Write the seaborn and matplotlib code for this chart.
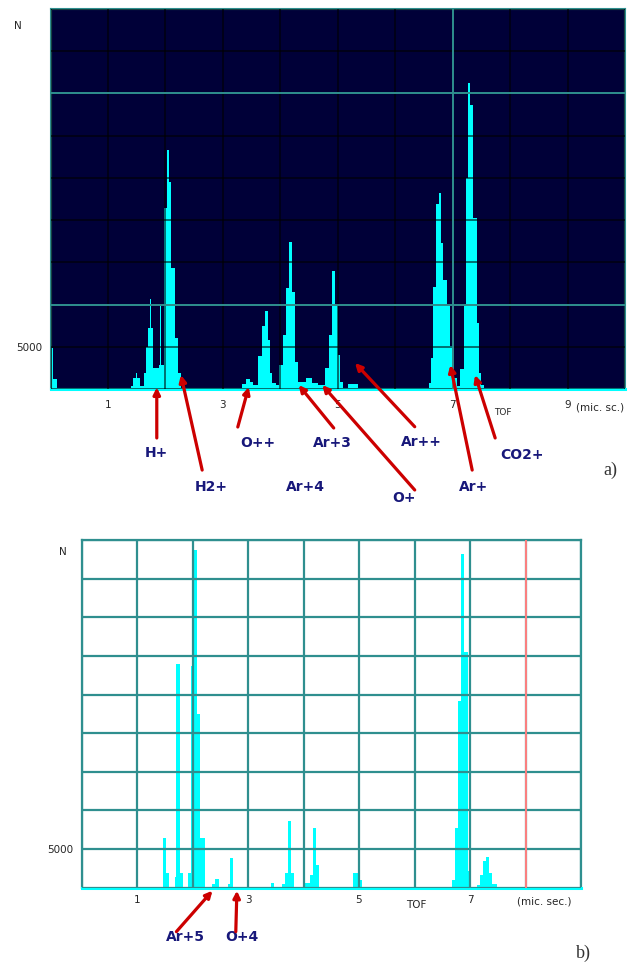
import numpy as np
import pandas as pd
import matplotlib
matplotlib.use("Agg")
import matplotlib.pyplot as plt
import seaborn as sns

# ---------------- panel a) : TOF spectrum (bins: start, end, counts) ----------------
a_lo = [0.01, 0.05, 1.40, 1.44, 1.48, 1.51, 1.56, 1.62, 1.67, 1.70, 1.73, 1.75, 1.79, 1.88, 1.91, 1.93,
        1.97, 2.03, 2.07, 2.10, 2.17, 2.22, 3.33, 3.40, 3.47, 3.52, 3.61, 3.68, 3.73, 3.78, 3.82, 3.86,
        3.93, 3.98, 4.04, 4.10, 4.16, 4.21, 4.26, 4.30, 4.38, 4.45, 4.55, 4.66, 4.77, 4.84, 4.90, 4.95,
        5.00, 5.04, 5.18, 6.59, 6.62, 6.66, 6.71, 6.77, 6.80, 6.84, 6.91, 6.95, 7.00, 7.07, 7.12, 7.19,
        7.23, 7.26, 7.31, 7.35, 7.42, 7.45, 7.50]
a_hi = [0.05, 0.11, 1.44, 1.48, 1.51, 1.56, 1.62, 1.67, 1.70, 1.73, 1.75, 1.79, 1.88, 1.91, 1.93, 1.97,
        2.03, 2.07, 2.10, 2.17, 2.22, 2.27, 3.40, 3.47, 3.52, 3.61, 3.68, 3.73, 3.78, 3.82, 3.86, 3.93,
        3.98, 4.04, 4.10, 4.16, 4.21, 4.26, 4.30, 4.38, 4.45, 4.55, 4.66, 4.77, 4.84, 4.90, 4.95, 5.00,
        5.04, 5.09, 5.35, 6.62, 6.66, 6.71, 6.77, 6.80, 6.84, 6.91, 6.95, 7.00, 7.07, 7.12, 7.19, 7.23,
        7.26, 7.31, 7.35, 7.42, 7.45, 7.50, 7.55]
a_n = [4860, 1200, 400, 1300, 1900, 1300, 400, 1900, 5000, 7200, 10600, 7200, 2450, 2800, 10000, 2800,
       21450, 28250, 24570, 14300, 6000, 1930, 600, 1150, 800, 470, 3950, 7460, 9240, 5800, 1930, 700,
       470, 2840, 6400, 12000, 17450, 11500, 3240, 870, 790, 1300, 700, 470, 2480, 6400, 14000, 10000,
       4000, 870, 550, 700, 3670, 12100, 21900, 23260, 17300, 12900, 10000, 5100, 1300, 300, 2400, 10000,
       25000, 36260, 33650, 20260, 7800, 1930, 470]

# ---------------- panel b) ----------------
b_lo = [1.46, 1.52, 1.68, 1.71, 1.77, 1.92, 1.97, 2.02, 2.075, 2.13, 2.36, 2.41, 2.64, 2.68, 3.42,
        3.62, 3.67, 3.72, 3.77, 4.03, 4.12, 4.17, 4.22, 4.90, 5.00, 6.68, 6.73, 6.79, 6.84, 6.90, 6.96,
        7.13, 7.18, 7.24, 7.29, 7.35, 7.40]
b_hi = [1.52, 1.57, 1.71, 1.77, 1.82, 1.97, 2.02, 2.075, 2.13, 2.22, 2.41, 2.47, 2.68, 2.73, 3.46,
        3.67, 3.72, 3.77, 3.83, 4.12, 4.17, 4.22, 4.28, 5.00, 5.05, 6.73, 6.79, 6.84, 6.90, 6.96, 7.01,
        7.18, 7.24, 7.29, 7.35, 7.40, 7.49]
b_n = [6380, 1860, 1340, 29000, 1860, 1860, 28700, 43760, 22500, 6380, 440, 1120, 440, 3880, 570,
       440, 1860, 8620, 1860, 570, 1600, 7750, 2890, 1860, 1000, 1000, 7670, 24200, 43200, 30500, 2200,
       350, 1640, 3450, 3930, 1860, 440]

# tick labels
a_ticks = ["", "1", "", "3", "", "5", "", "7", "", "9", ""]
b_ticks = ["", "1", "", "3", "", "5", "", "7", "", ""]
y_ticks = ["", "5000", "", "", "", "", "", "", "", ""]

# ion annotations (label, label pos, arrow tip, arrow tail)
a_ion = ["H+", "H2+", "O++", "Ar+3", "Ar+4", "O+", "Ar++", "Ar+", "CO2+"]
a_ion_x = [1.84, 2.80, 3.61, 4.90, 4.43, 6.16, 6.45, 7.37, 8.20]
a_ion_y = [-7600, -11600, -6400, -6400, -11600, -12900, -6280, -11600, -7800]
a_tip_x = [1.85, 2.27, 3.45, 4.32, None, 4.73, 5.30, 6.96, 7.39]
a_tip_y = [200, 1660, 240, 470, None, 470, 3080, 2840, 1660]
a_tail_x = [1.85, 2.64, 3.26, 4.93, None, 6.34, 6.34, 7.34, 7.74]
a_tail_y = [-5800, -9600, -4500, -4620, None, -11960, -4470, -9600, -5800]

b_ion = ["Ar+5", "O+4"]
b_ion_x = [1.87, 2.89]
b_ion_y = [-6370, -6370]
b_tip_x = [2.36, 2.80]
b_tip_y = [-390, -390]
b_tail_x = [1.71, 2.78]
b_tail_y = [-5690, -5690]

sns.set_theme(style="white")
plt.rcParams["font.family"] = ["DejaVu Sans"]

W, H = 644, 964
fig = plt.figure(figsize=(W / 100, H / 100), dpi=100)
fig.patch.set_facecolor("white")

CYAN = "#00FFFF"
TEAL = "#2f8f8f"
RED = "#CC0000"
NAVY = "#18187a"


def draw_hist(ax, lo, hi, n):
    lo, hi, n = np.asarray(lo), np.asarray(hi), np.asarray(n)
    edges = [float(e) for e in np.unique(np.concatenate([lo, hi]))]
    df = pd.DataFrame({"tof": (lo + hi) / 2, "n": n.astype(float)})
    sns.histplot(data=df, x="tof", weights="n", bins=edges, element="step",
                 fill=True, color=CYAN, alpha=1, linewidth=0, ax=ax, zorder=1)
    ax.set_xlabel("")
    ax.set_ylabel("")


def annotate(ax, labels, lx, ly, tx, ty, sx, sy):
    for i, lab in enumerate(labels):
        if tx[i] is not None:
            ax.annotate("", xy=(tx[i], ty[i]), xytext=(sx[i], sy[i]),
                        arrowprops=dict(arrowstyle="-|>", color=RED, lw=2.3,
                                        mutation_scale=10, shrinkA=0, shrinkB=0),
                        annotation_clip=False, zorder=5)
        ax.text(lx[i], ly[i], lab, ha="center", va="center", fontsize=10,
                fontweight="bold", color=NAVY, clip_on=False)


# ---------------- axes a ----------------
axa = fig.add_axes([50.5 / W, 1 - 389 / H, (625 - 50.5) / W, (389 - 9) / H])
axa.set_facecolor("#000038")
draw_hist(axa, a_lo, a_hi, a_n)
axa.set_xlim(0, 10)
axa.set_ylim(0, 45000)
axa.set_xticks(range(0, 11))
axa.set_xticklabels(a_ticks, fontsize=7.5)
axa.set_yticks(range(0, 45001, 5000))
axa.set_yticklabels(y_ticks, fontsize=7.5)
axa.tick_params(length=0, axis="x", pad=8)
axa.tick_params(length=0, axis="y", pad=6)
axa.grid(True, color="black", alpha=0.6, lw=1.3)
axa.set_axisbelow(False)
for v in (10000, 35000):
    axa.axhline(v, color=TEAL, lw=1.4, zorder=3)
axa.axvline(7, color=TEAL, lw=1.4, zorder=3)
for s in ("left", "top", "right"):
    axa.spines[s].set_color(TEAL)
    axa.spines[s].set_linewidth(1.5)
axa.spines["bottom"].set_color(CYAN)
axa.spines["bottom"].set_linewidth(2.2)
axa.text(9.57, -2250, "(mic. sc.)", ha="center", va="center", fontsize=7.5)
axa.text(7.88, -2750, "TOF", ha="center", va="center", fontsize=6.5)
annotate(axa, a_ion, a_ion_x, a_ion_y, a_tip_x, a_tip_y, a_tail_x, a_tail_y)
axa.text(9.74, -9600, "a)", ha="center", va="center", fontsize=13,
         family="Liberation Serif", color="#333333")
fig.text(18 / W, 1 - 26 / H, "N", ha="center", va="center", fontsize=7.5)

# ---------------- axes b ----------------
axb = fig.add_axes([81.5 / W, 1 - 887.7 / H, (581 - 81.5) / W, (887.7 - 540) / H])
axb.set_facecolor("white")
draw_hist(axb, b_lo, b_hi, b_n)
axb.set_xlim(0, 9)
axb.set_ylim(0, 45000)
axb.set_xticks(range(0, 10))
axb.set_xticklabels(b_ticks, fontsize=7.5)
axb.set_yticks(range(0, 45001, 5000))
axb.set_yticklabels(y_ticks, fontsize=7.5)
axb.tick_params(length=0, axis="x", pad=5)
axb.tick_params(length=0, axis="y", pad=6)
axb.grid(True, color=TEAL, lw=1.6)
axb.set_axisbelow(False)
axb.axvline(8, color="#ff8080", lw=1.4, zorder=3)
for s in ("left", "top", "right"):
    axb.spines[s].set_color(TEAL)
    axb.spines[s].set_linewidth(1.6)
axb.spines["bottom"].set_color(CYAN)
axb.spines["bottom"].set_linewidth(2.2)
axb.text(8.33, -1800, "(mic. sec.)", ha="center", va="center", fontsize=7.5)
axb.text(6.03, -2300, "TOF", ha="center", va="center", fontsize=7.5)
annotate(axb, b_ion, b_ion_x, b_ion_y, b_tip_x, b_tip_y, b_tail_x, b_tail_y)
axb.text(9.04, -8440, "b)", ha="center", va="center", fontsize=13,
         family="Liberation Serif", color="#333333")
fig.text(62.5 / W, 1 - 552 / H, "N", ha="center", va="center", fontsize=7.5)

fig.savefig("out.png", dpi=100, facecolor="white")
